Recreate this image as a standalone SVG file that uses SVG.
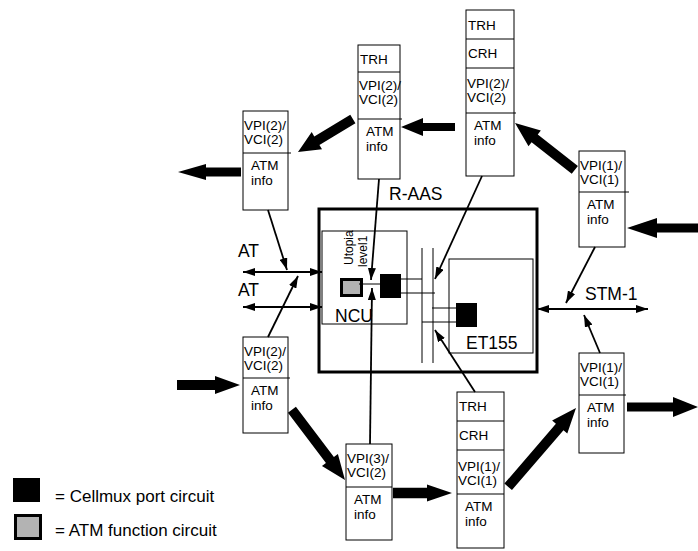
<svg xmlns="http://www.w3.org/2000/svg" width="698" height="551" viewBox="0 0 698 551">
<defs>
<marker id="ah" markerUnits="userSpaceOnUse" markerWidth="12" markerHeight="8" refX="12" refY="4" orient="auto-start-reverse"><path d="M0,0 L12,4 L0,8 Z" fill="#000"/></marker>
</defs>
<style>
.bx{fill:#fff;stroke:#000;stroke-width:1}
.dv{stroke:#000;stroke-width:1;fill:none}
.t{font-family:"Liberation Sans",Arial,sans-serif;font-size:13.5px;fill:#000}
.lb{font-family:"Liberation Sans",Arial,sans-serif;font-size:17.5px;fill:#000}
.lg{font-family:"Liberation Sans",Arial,sans-serif;font-size:17px;fill:#000}
.ut{font-family:"Liberation Sans",Arial,sans-serif;font-size:12px;fill:#000}
.ar{stroke:#000;stroke-width:1.8;fill:none;marker-end:url(#ah)}
.ar2{stroke:#000;stroke-width:1.8;fill:none;marker-end:url(#ah);marker-start:url(#ah)}
.blk{fill:#000}
.ln{stroke:#000;stroke-width:1;fill:none}
</style>
<rect width="698" height="551" fill="#fff"/>

<g id="raas">
<rect x="319" y="209" width="218" height="163" fill="none" stroke="#000" stroke-width="3"/>
<text class="lb" x="389" y="200">R-AAS</text>
</g>
<g id="ncu">
<rect x="322" y="231" width="85" height="93" class="bx"/>
<text class="lb" x="335" y="322">NCU</text>
<text class="ut" transform="translate(353,265) rotate(-90)">Utopia</text>
<text class="ut" transform="translate(367,267) rotate(-90)">level1</text>
<rect x="341.5" y="279.5" width="20" height="16" fill="#b3b3b3" stroke="#000" stroke-width="3"/>
<rect x="380" y="274" width="21" height="24" class="blk"/>
<line x1="359" y1="284" x2="380" y2="284" class="ln"/>
</g>
<g id="et155">
<rect x="449" y="259" width="84" height="94" class="bx"/>
<rect x="456" y="303" width="21" height="24" class="blk"/>
<text class="lb" x="466" y="349">ET155</text>
</g>
<g id="bus">
<line x1="422" y1="248" x2="422" y2="363" class="ln"/>
<line x1="433" y1="248" x2="433" y2="363" class="ln"/>
<line x1="401" y1="279" x2="422" y2="279" class="ln"/>
<line x1="401" y1="293" x2="435" y2="293" class="ln"/>
<line x1="432" y1="308" x2="456" y2="308" class="ln"/>
<line x1="422" y1="322" x2="456" y2="322" class="ln"/>
</g>

<g id="box1">
<rect x="243" y="111" width="45" height="99" class="bx"/>
<line x1="243" y1="153" x2="291" y2="153" class="dv"/>
<text class="t" x="244" y="130">VPI(2)/</text>
<text class="t" x="244" y="144">VCI(2)</text>
<text class="t" x="251" y="170">ATM</text>
<text class="t" x="251" y="185">info</text>
</g>
<g id="box2">
<rect x="358" y="45" width="42" height="134" class="bx"/>
<line x1="358" y1="72" x2="400" y2="72" class="dv"/>
<line x1="358" y1="119" x2="402" y2="119" class="dv"/>
<text class="t" x="360" y="64">TRH</text>
<text class="t" x="359" y="90">VPI(2)/</text>
<text class="t" x="359" y="104">VCI(2)</text>
<text class="t" x="366" y="136">ATM</text>
<text class="t" x="366" y="151">info</text>
</g>
<g id="box3">
<rect x="466" y="10" width="48" height="166" class="bx"/>
<line x1="466" y1="39" x2="514" y2="39" class="dv"/>
<line x1="466" y1="68" x2="514" y2="68" class="dv"/>
<line x1="466" y1="113" x2="516" y2="113" class="dv"/>
<text class="t" x="468" y="30">TRH</text>
<text class="t" x="468" y="58">CRH</text>
<text class="t" x="467" y="88">VPI(2)/</text>
<text class="t" x="467" y="102">VCI(2)</text>
<text class="t" x="474" y="130">ATM</text>
<text class="t" x="474" y="145">info</text>
</g>
<g id="box4">
<rect x="579" y="151" width="46" height="96" class="bx"/>
<line x1="579" y1="192" x2="629" y2="192" class="dv"/>
<text class="t" x="580" y="170">VPI(1)/</text>
<text class="t" x="580" y="184">VCI(1)</text>
<text class="t" x="587" y="209">ATM</text>
<text class="t" x="587" y="224">info</text>
</g>
<g id="box5">
<rect x="243" y="337" width="45" height="96" class="bx"/>
<line x1="243" y1="378" x2="290" y2="378" class="dv"/>
<text class="t" x="244" y="356">VPI(2)/</text>
<text class="t" x="244" y="370">VCI(2)</text>
<text class="t" x="251" y="395">ATM</text>
<text class="t" x="251" y="410">info</text>
</g>
<g id="box6">
<rect x="346" y="444" width="46" height="96" class="bx"/>
<line x1="346" y1="487" x2="392" y2="487" class="dv"/>
<text class="t" x="347" y="463">VPI(3)/</text>
<text class="t" x="347" y="477">VCI(2)</text>
<text class="t" x="354" y="504">ATM</text>
<text class="t" x="354" y="519">info</text>
</g>
<g id="box7">
<rect x="457" y="392" width="47" height="156" class="bx"/>
<line x1="457" y1="421" x2="504" y2="421" class="dv"/>
<line x1="457" y1="450" x2="504" y2="450" class="dv"/>
<line x1="457" y1="494" x2="504" y2="494" class="dv"/>
<text class="t" x="459" y="411">TRH</text>
<text class="t" x="459" y="440">CRH</text>
<text class="t" x="458" y="471">VPI(1)/</text>
<text class="t" x="458" y="485">VCI(1)</text>
<text class="t" x="465" y="511">ATM</text>
<text class="t" x="465" y="526">info</text>
</g>
<g id="box8">
<rect x="579" y="353" width="45" height="100" class="bx"/>
<line x1="579" y1="395" x2="626" y2="395" class="dv"/>
<text class="t" x="580" y="372">VPI(1)/</text>
<text class="t" x="580" y="386">VCI(1)</text>
<text class="t" x="587" y="412">ATM</text>
<text class="t" x="587" y="427">info</text>
</g>

<g id="labels">
<text class="lb" x="238" y="257">AT</text>
<text class="lb" x="238" y="296">AT</text>
<text class="lb" x="585" y="300">STM-1</text>
</g>

<g id="connectors">
<line x1="243" y1="272" x2="322" y2="272" class="ar2"/>
<line x1="243" y1="307" x2="322" y2="307" class="ar2"/>
<line x1="537" y1="309" x2="648" y2="309" class="ar2"/>
<line x1="268" y1="210" x2="287" y2="270" class="ar"/>
<line x1="268" y1="337" x2="298" y2="276" class="ar"/>
<line x1="379" y1="179" x2="371" y2="280" class="ar"/>
<line x1="370" y1="444" x2="372" y2="288" class="ar"/>
<line x1="482" y1="176" x2="435" y2="279" class="ar"/>
<line x1="475" y1="392" x2="435" y2="330" class="ar"/>
<line x1="595" y1="247" x2="566" y2="303" class="ar"/>
<line x1="600" y1="353" x2="584" y2="315" class="ar"/>

<path class="blk" transform="translate(401,127) rotate(180)" d="M0,0 L-22,-9 L-22,-4 L-54,-4 L-54,4 L-22,4 L-22,9 Z"/>
<path class="blk" transform="translate(298,152) rotate(149)" d="M0,0 L-22,-10 L-22,-5 L-64,-5 L-64,5 L-22,5 L-22,10 Z"/>
<path class="blk" transform="translate(178,172) rotate(180)" d="M0,0 L-28,-8 L-28,-4.5 L-63,-4.5 L-63,4.5 L-28,4.5 L-28,8 Z"/>
<path class="blk" transform="translate(240,385) rotate(0)" d="M0,0 L-25,-9 L-25,-5 L-63,-5 L-63,5 L-25,5 L-25,9 Z"/>
<path class="blk" transform="translate(345,480) rotate(52.9)" d="M0,0 L-25,-10 L-25,-5 L-88,-5 L-88,5 L-25,5 L-25,10 Z"/>
<path class="blk" transform="translate(452,493) rotate(0)" d="M0,0 L-25,-8.5 L-25,-5.3 L-59,-5.3 L-59,5.3 L-25,5.3 L-25,8.5 Z"/>
<path class="blk" transform="translate(576,408) rotate(-49.3)" d="M0,0 L-25,-10 L-25,-5 L-104,-5 L-104,5 L-25,5 L-25,10 Z"/>
<path class="blk" transform="translate(698,407) rotate(0)" d="M0,0 L-25,-10 L-25,-4.5 L-71,-4.5 L-71,4.5 L-25,4.5 L-25,10 Z"/>
<path class="blk" transform="translate(627,228) rotate(180)" d="M0,0 L-30,-10 L-30,-4.5 L-71,-4.5 L-71,4.5 L-30,4.5 L-30,10 Z"/>
<path class="blk" transform="translate(515,123) rotate(-141.9)" d="M0,0 L-25,-10 L-25,-5 L-76,-5 L-76,5 L-25,5 L-25,10 Z"/>
</g>

<g id="legend">
<rect x="13" y="478" width="27" height="24" class="blk"/>
<text class="lg" x="55" y="502">= Cellmux port circuit</text>
<rect x="15.5" y="515.5" width="25" height="23" fill="#b3b3b3" stroke="#000" stroke-width="3"/>
<text class="lg" x="55" y="536">= ATM function circuit</text>
</g>
</svg>
